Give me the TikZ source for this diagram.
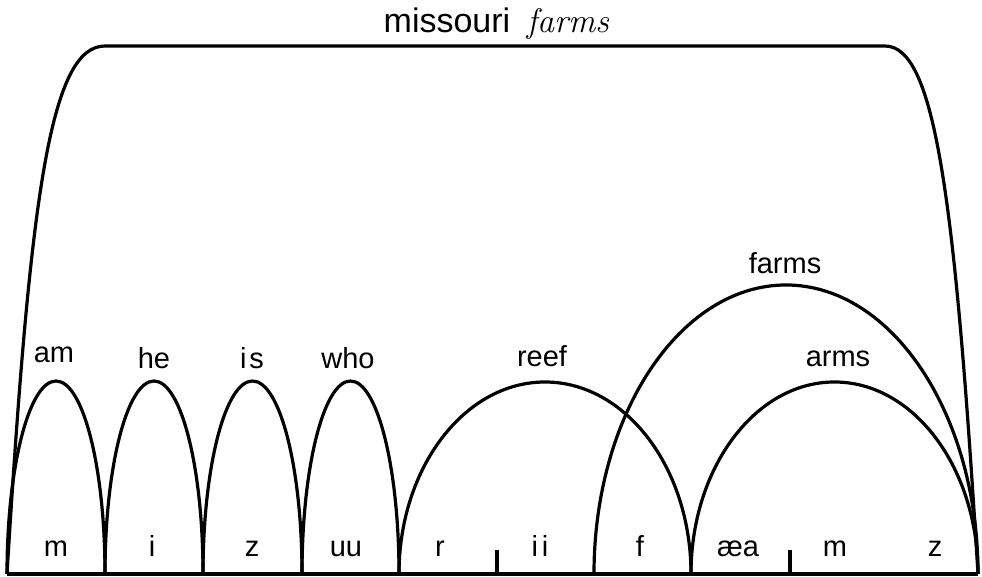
\documentclass[tikz,border=0pt]{standalone}
\usepackage{fontspec}
\setmainfont{Liberation Sans}
\newfontfamily\handfont{Latin Modern Roman}
\begin{document}
\begin{tikzpicture}[x=0.5pt,y=0.5pt,
  arch/.style={line width=1.6pt},
  base/.style={line width=1.8pt},
  wlabel/.style={font=\fontsize{14.5}{16}\selectfont, anchor=base, inner sep=0pt},
  plabel/.style={font=\fontsize{14.5}{16}\selectfont, anchor=base, inner sep=0pt},
  tlabel/.style={font=\fontsize{17}{19}\selectfont, anchor=base, inner sep=0pt}]
\useasboundingbox (0,0) rectangle (982,577);
% baseline
\coordinate (L) at (7,3);
\coordinate (R) at (978,3);
\draw[base] (L) -- (R);
% ticks
\coordinate (t1) at (497,3); \coordinate (t1u) at (497,27);
\coordinate (t2) at (790,3); \coordinate (t2u) at (790,27);
\draw[arch] (t1) -- (t1u);
\draw[arch] (t2) -- (t2u);
% big arch
\draw[arch] (L) .. controls (30,380) and (50,531) .. (105,531) -- (885,531)
  .. controls (935,531) and (955,380) .. (R);
% small arches
\draw[arch] (7,3) arc[start angle=180,end angle=0,x radius=49,y radius=193];
\draw[arch] (105,3) arc[start angle=180,end angle=0,x radius=49,y radius=193];
\draw[arch] (203,3) arc[start angle=180,end angle=0,x radius=49.5,y radius=193];
\draw[arch] (302,3) arc[start angle=180,end angle=0,x radius=48.5,y radius=193];
% reef
\draw[arch] (399,3) arc[start angle=180,end angle=0,x radius=146,y radius=192];
% farms
\draw[arch] (594,3) arc[start angle=180,end angle=0,x radius=192,y radius=289];
% arms
\draw[arch] (691,3) arc[start angle=180,end angle=0,x radius=143.5,y radius=192];
% title
\node[tlabel] (title) at (447,544) {missouri};
\node[tlabel, font=\handfont\itshape\fontsize{17}{19}\selectfont] (titlef) at (568,544) {farms};
% word labels
\node[wlabel] (am) at (54,214) {am};
\node[wlabel] (he) at (154,208) {he};
\node[wlabel] (is) at (252,208) {i\kern1.5pt s};
\node[wlabel] (who) at (348,208) {who};
\node[wlabel] (reef) at (542,210) {reef};
\node[wlabel] (farms) at (785,303) {farms};
\node[wlabel] (arms) at (838,210) {arms};
% phone labels
\node[plabel] (p1) at (56,20) {m};
\node[plabel] (p2) at (152,20) {i};
\node[plabel] (p3) at (252,20) {z};
\node[plabel] (p4) at (346,20) {uu};
\node[plabel] (p5) at (440,20) {r};
\node[plabel] (p6) at (540,20) {i\kern2pt i};
\node[plabel] (p7) at (640,20) {f};
\node[plabel] (p8) at (738,20) {æa};
\node[plabel] (p9) at (835,20) {m};
\node[plabel] (p10) at (935,20) {z};
\end{tikzpicture}
\end{document}
